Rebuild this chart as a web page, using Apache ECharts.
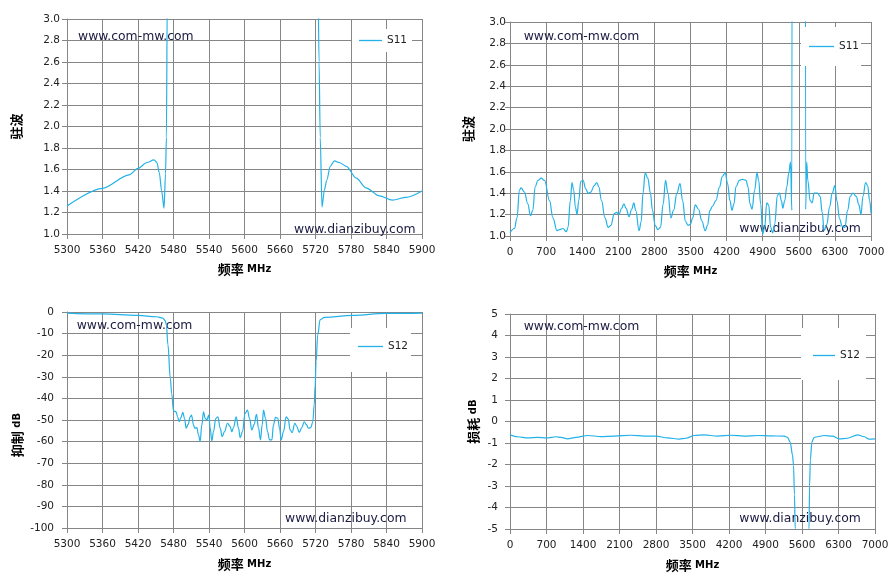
<!DOCTYPE html>
<html>
  <head>
    <meta charset="utf-8" />
    <script src="https://cdn.jsdelivr.net/npm/echarts@6.0.0/dist/echarts.min.js"></script>
  </head>
  <body style="margin:0">
    <div id="main" style="width: 894px;height:588px;"></div>
    <script type="text/javascript">
      var myChart = echarts.init(document.getElementById('main'));

      // S11 VSWR, 5300-5900 MHz (values off the top are clipped by the axis)
      const s11BandFreq = [5300, 5360, 5405, 5420, 5435, 5447, 5452, 5456, 5460, 5464, 5466.5, 5468, 5469.5, 5476,
        5600, 5720, 5724, 5726, 5728, 5731, 5735, 5739, 5745, 5752, 5760, 5772, 5789, 5805, 5828, 5850, 5873, 5900];
      const s11BandVswr = [1.26, 1.425, 1.55, 1.61, 1.665, 1.69, 1.665, 1.57, 1.40, 1.24, 1.56, 1.9, 3.2, 15,
        15, 15, 3.5, 2.6, 1.9, 1.25, 1.41, 1.50, 1.63, 1.68, 1.665, 1.63, 1.52, 1.43, 1.355, 1.315, 1.34, 1.40];

      // S11 VSWR, 0-7000 MHz
      const s11WideFreq = [0, 85, 137, 182, 215, 280, 345, 397, 442, 488, 540, 605, 670, 767, 832, 910, 962, 1027, 1092, 1125,
        1170, 1202, 1235, 1268, 1300, 1333, 1372, 1417, 1469, 1515, 1567, 1632, 1683, 1722, 1775, 1840, 1905, 1957, 2022, 2067,
        2112, 2165, 2210, 2249, 2308, 2360, 2400, 2438, 2503, 2542, 2580, 2620, 2672, 2723, 2763, 2815, 2867, 2918, 2970, 3016,
        3062, 3120, 3172, 3237, 3296, 3348, 3400, 3452, 3497, 3543, 3591, 3656, 3720, 3785, 3831, 3876, 3928, 3993, 4057, 4122,
        4174, 4219, 4265, 4304, 4343, 4381, 4446, 4511, 4576, 4615, 4654, 4693, 4744, 4790, 4822, 4861, 4900, 4939, 4978, 5016,
        5055, 5094, 5133, 5185, 5224, 5263, 5289, 5328, 5367, 5406, 5440, 5465, 5485, 5600, 5715, 5733, 5753, 5775, 5820, 5859,
        5898, 5963, 6014, 6053, 6092, 6144, 6196, 6248, 6300, 6338, 6390, 6442, 6494, 6546, 6598, 6649, 6714, 6766, 6805, 6844,
        6896, 6935, 6974, 7000];
      const s11WideVswr = [1.03, 1.07, 1.17, 1.43, 1.45, 1.41, 1.30, 1.19, 1.24, 1.46, 1.52, 1.54, 1.52, 1.33, 1.17, 1.05, 1.06, 1.07, 1.04, 1.08,
        1.33, 1.50, 1.43, 1.27, 1.20, 1.33, 1.51, 1.52, 1.44, 1.40, 1.41, 1.47, 1.50, 1.46, 1.33, 1.17, 1.08, 1.10, 1.21, 1.22,
        1.20, 1.26, 1.30, 1.26, 1.18, 1.25, 1.31, 1.24, 1.05, 1.13, 1.40, 1.59, 1.54, 1.40, 1.24, 1.10, 1.06, 1.08, 1.30, 1.52,
        1.40, 1.17, 1.24, 1.40, 1.49, 1.33, 1.14, 1.10, 1.11, 1.17, 1.29, 1.25, 1.14, 1.05, 1.10, 1.24, 1.28, 1.33, 1.45, 1.56,
        1.59, 1.49, 1.33, 1.24, 1.30, 1.46, 1.52, 1.53, 1.52, 1.46, 1.30, 1.25, 1.43, 1.59, 1.52, 1.30, 1.02, 1.08, 1.31, 1.29,
        1.08, 1.03, 1.11, 1.38, 1.40, 1.33, 1.26, 1.33, 1.46, 1.59, 1.69, 1.24, 15, 15, 15, 1.25, 1.69, 1.52, 1.33, 1.31,
        1.40, 1.40, 1.37, 1.22, 1.05, 1.11, 1.27, 1.40, 1.47, 1.33, 1.16, 1.09, 1.08, 1.24, 1.37, 1.40, 1.37, 1.29, 1.20, 1.37,
        1.50, 1.47, 1.33, 1.21];

      // S12 rejection dB, 5300-5900 MHz
      const s12BandFreq = [5300, 5360, 5420, 5451, 5462, 5466, 5468, 5470.5, 5474.6, 5477, 5480, 5484.5, 5486.8, 5489.6, 5492.4,
        5495.8, 5498.6, 5501.4, 5504.8, 5508.2, 5510.4, 5513.8, 5516, 5519.4, 5522.3, 5525, 5527.9, 5530.7, 5533.5, 5536.3,
        5539.7, 5542, 5544.8, 5547.6, 5551.6, 5555, 5558.9, 5562.3, 5566.2, 5571.3, 5575.8, 5578.6, 5581.4, 5585.9, 5589.9,
        5592.7, 5596.6, 5601, 5605, 5608.4, 5612.4, 5616.3, 5620.3, 5623.7, 5627, 5629.9, 5632.1, 5635.5, 5638.9, 5642.3,
        5646.2, 5649, 5652.4, 5656.3, 5659.2, 5662, 5665.9, 5670.4, 5673.8, 5677.2, 5680.6, 5685.1, 5688.5, 5692.4, 5696.9,
        5700.9, 5704.2, 5708.2, 5712.1, 5715.5, 5717.8, 5719.4, 5721, 5723.8, 5727.8, 5735, 5783, 5839, 5900];
      const s12BandDb = [-0.5, -0.9, -1.6, -2.2, -2.8, -4, -5.9, -15, -30.6, -38, -45.8, -46.2, -48.5, -50.8, -48.9,
        -46.5, -49.2, -53.8, -52, -48.5, -47.7, -52.3, -53.8, -53.5, -56.9, -60, -52.3, -46.2, -49.2, -50,
        -47.7, -53.8, -59.7, -55.4, -49.2, -48.5, -53.8, -57.7, -55.4, -51.5, -53, -55.4, -53.5, -48.5, -53.8,
        -58.2, -55.4, -46.9, -45.4, -49.2, -54.6, -52, -47.4, -53.8, -59.2, -52.3, -45.4, -49.2, -55.4, -59.2,
        -59.2, -52.3, -48.8, -49.2, -53.8, -59.2, -55.4, -48.5, -49.5, -54.6, -55.8, -51.5, -53, -55.7, -53.5,
        -50.8, -52, -53.8, -53.5, -50.8, -43, -34, -22.9, -10.5, -3.6, -2.5, -1.6, -0.65, -0.5];

      // S12 loss dB, 0-7000 MHz (stop band below the axis floor)
      const s12WideFreq = [0, 147, 339, 530, 703, 882, 978, 1105, 1265, 1489, 1745, 2000, 2320, 2575, 2799, 3022, 3246, 3374,
        3534, 3725, 3981, 4237, 4492, 4748, 5003, 5259, 5323, 5374, 5419, 5438, 5455, 5470, 5490, 5600, 5710, 5735, 5745,
        5760, 5790, 5830, 5866, 6026, 6186, 6313, 6473, 6665, 6793, 6889, 7000];
      const s12WideDb = [-0.62, -0.71, -0.76, -0.74, -0.76, -0.71, -0.74, -0.81, -0.74, -0.65, -0.70, -0.68, -0.64, -0.68, -0.68, -0.76, -0.82, -0.78,
        -0.65, -0.62, -0.68, -0.64, -0.68, -0.65, -0.67, -0.68, -0.74, -0.96, -1.58, -2.05, -3.4, -5, -40, -40, -40, -5, -3,
        -1.8, -0.95, -0.75, -0.72, -0.65, -0.68, -0.81, -0.78, -0.62, -0.71, -0.82, -0.81];

      const pairs = (xs, ys) => xs.map((x, i) => [x, ys[i]]);

      const gridColor = '#868686';
      const lineColor = '#22b2e8';
      const labelFont = 'DejaVu Sans';
      const cjkFont = 'Noto Sans CJK SC';

      function xAxisCfg(gi, min, max, interval, nameGap) {
        return {
          type: 'value', gridIndex: gi, min: min, max: max, interval: interval,
          name: '{a|频率} {b|MHz}', nameLocation: 'middle', nameGap: nameGap,
          nameTextStyle: { rich: {
            a: { fontFamily: cjkFont, fontWeight: 'bold', fontSize: 13, color: '#000' },
            b: { fontFamily: labelFont, fontWeight: 'bold', fontSize: 10, color: '#000' }
          } },
          axisLine: { show: true, onZero: false, lineStyle: { color: gridColor } },
          axisTick: { show: true, length: 5, lineStyle: { color: gridColor } },
          axisLabel: {
            margin: 11, fontSize: 10.5, fontFamily: labelFont, color: '#222',
            formatter: function (v) { return String(v); }
          },
          splitLine: { show: true, lineStyle: { color: gridColor, width: 1 } }
        };
      }

      function yAxisCfg(gi, min, max, interval, name, nameGap, margin, digits, namePad) {
        return {
          type: 'value', gridIndex: gi, min: min, max: max, interval: interval,
          name: name, nameLocation: 'middle', nameGap: nameGap,
          nameTextStyle: { padding: namePad, rich: {
            a: { fontFamily: cjkFont, fontWeight: 'bold', fontSize: 13, color: '#000' },
            b: { fontFamily: labelFont, fontWeight: 'bold', fontSize: 10, color: '#000' }
          } },
          axisLine: { show: true, onZero: false, lineStyle: { color: gridColor } },
          axisTick: { show: true, length: 5, lineStyle: { color: gridColor } },
          axisLabel: {
            margin: margin, fontSize: 10.5, fontFamily: labelFont, color: '#222',
            formatter: function (v) { return v.toFixed(digits); }
          },
          splitLine: { show: true, lineStyle: { color: gridColor, width: 1 } }
        };
      }

      function legendCfg(name, left, top, padding, itemWidth) {
        return {
          data: [name], left: left, top: top, padding: padding,
          icon: 'rect', itemWidth: itemWidth, itemHeight: 1.3,
          backgroundColor: '#fff', selectedMode: false,
          textStyle: { fontFamily: labelFont, fontSize: 10.5, color: '#222', lineHeight: 13 }
        };
      }

      function seriesCfg(name, idx, data, smooth) {
        return {
          name: name, type: 'line', xAxisIndex: idx, yAxisIndex: idx,
          data: data, symbol: 'none', smooth: smooth, smoothMonotone: 'x', clip: true,
          lineStyle: { color: lineColor, width: 1.2 },
          itemStyle: { color: lineColor }
        };
      }

      function mark(x, y, text) {
        return {
          type: 'text', x: x, y: y, z: 1,
          style: { text: text, fill: '#1a1a40', font: '12.4px "DejaVu Sans"', verticalAlign: 'middle' }
        };
      }

      option = {
        animation: false,
        backgroundColor: '#fff',
        grid: [
          { left: 67, top: 19, width: 355, height: 215 },
          { left: 510, top: 22, width: 361, height: 214 },
          { left: 67, top: 312, width: 355, height: 216 },
          { left: 510, top: 314, width: 365, height: 215 }
        ],
        xAxis: [
          xAxisCfg(0, 5300, 5900, 60, 29),
          xAxisCfg(1, 0, 7000, 700, 29),
          xAxisCfg(2, 5300, 5900, 60, 30),
          xAxisCfg(3, 0, 7000, 700, 30)
        ],
        yAxis: [
          yAxisCfg(0, 1, 3, 0.2, '{a|驻波}', 44, 7, 1, 0),
          yAxisCfg(1, 1, 3, 0.2, '{a|驻波}', 35, 4, 1, 0),
          yAxisCfg(2, -100, 0, 10, '{a|抑制}{b| dB}', 43, 13, 0, [0, 30, 0, 0]),
          yAxisCfg(3, -5, 5, 1, '{a|损耗}{b| dB}', 30, 12, 0, 0)
        ],
        legend: [
          legendCfg('S11', 352, 29, [5, 5, 5, 7], 23),
          legendCfg('S11', 801, 27, [13, 2, 13, 8], 25),
          legendCfg('S12', 350, 328, [12, 3, 19, 8], 25),
          legendCfg('S12', 801, 328, [21, 6, 18, 12], 22)
        ],
        graphic: [
          mark(78, 36.7, 'www.com-mw.com'),
          mark(294, 229.3, 'www.dianzibuy.com'),
          mark(523.7, 36.7, 'www.com-mw.com'),
          mark(739.3, 228.7, 'www.dianzibuy.com'),
          mark(76.7, 325.7, 'www.com-mw.com'),
          mark(285, 518.3, 'www.dianzibuy.com'),
          mark(523.7, 326.7, 'www.com-mw.com'),
          mark(739.3, 518.3, 'www.dianzibuy.com')
        ],
        series: [
          seriesCfg('S11', 0, pairs(s11BandFreq, s11BandVswr), 0.3),
          seriesCfg('S11', 1, pairs(s11WideFreq, s11WideVswr), 0.4),
          seriesCfg('S12', 2, pairs(s12BandFreq, s12BandDb), 0.4),
          seriesCfg('S12', 3, pairs(s12WideFreq, s12WideDb), 0.3)
        ]
      };

      myChart.setOption(option);
    </script>
  </body>
</html>
